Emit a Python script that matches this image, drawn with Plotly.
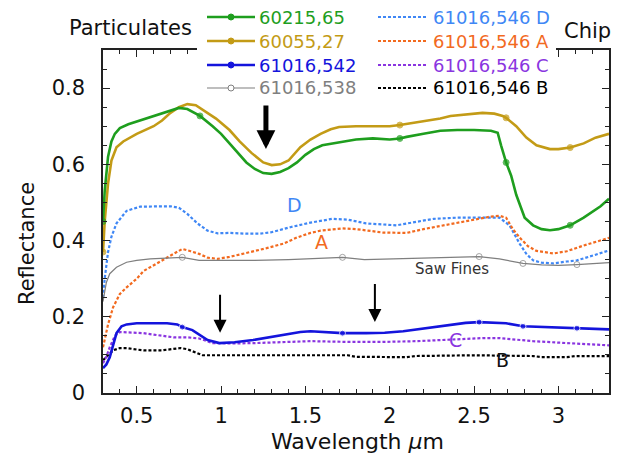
import plotly.graph_objects as go
import numpy as np

# ---------------- data ----------------
green_x = [0.30, 0.31, 0.33, 0.35, 0.37, 0.40, 0.45, 0.50, 0.55, 0.60, 0.65, 0.70, 0.75, 0.80, 0.875, 0.95, 1.00, 1.05, 1.10,
           1.15, 1.20, 1.25, 1.30, 1.35, 1.40, 1.45, 1.50, 1.55, 1.60, 1.70, 1.80, 1.90, 2.00, 2.06, 2.10, 2.20, 2.30, 2.40,
           2.50, 2.60, 2.64, 2.66, 2.69, 2.72, 2.75, 2.80, 2.85, 2.90, 2.95, 3.00, 3.07, 3.15, 3.20, 3.25, 3.30]
green_y = [0.45, 0.53, 0.62, 0.66, 0.68, 0.695, 0.705, 0.712, 0.72, 0.728, 0.735, 0.74, 0.748, 0.745, 0.727, 0.70, 0.68, 0.655,
           0.63, 0.605, 0.588, 0.577, 0.575, 0.58, 0.59, 0.605, 0.625, 0.64, 0.65, 0.658, 0.665, 0.668, 0.665, 0.668, 0.672,
           0.68, 0.688, 0.69, 0.69, 0.688, 0.683, 0.65, 0.605, 0.57, 0.52, 0.46, 0.44, 0.43, 0.427, 0.43, 0.44, 0.46, 0.475,
           0.49, 0.51]
green_marks = [0.30, 0.875, 2.06, 2.69, 3.07]

gold_x = [0.30, 0.31, 0.33, 0.35, 0.38, 0.42, 0.50, 0.55, 0.60, 0.65, 0.70, 0.75, 0.80, 0.85, 0.90, 0.97, 1.05, 1.11, 1.18,
          1.25, 1.30, 1.35, 1.40, 1.47, 1.53, 1.59, 1.65, 1.70, 1.80, 1.90, 2.00, 2.06, 2.20, 2.30, 2.36, 2.45, 2.55, 2.62,
          2.67, 2.69, 2.75, 2.81, 2.87, 2.95, 3.00, 3.07, 3.15, 3.22, 3.30]
gold_y = [0.37, 0.45, 0.55, 0.61, 0.645, 0.66, 0.68, 0.69, 0.70, 0.715, 0.735, 0.75, 0.758, 0.755, 0.74, 0.72, 0.69, 0.66,
          0.63, 0.605, 0.598, 0.60, 0.61, 0.645, 0.665, 0.68, 0.692, 0.698, 0.70, 0.70, 0.70, 0.703, 0.712, 0.72, 0.727,
          0.73, 0.735, 0.733, 0.727, 0.722, 0.70, 0.67, 0.65, 0.64, 0.64, 0.644, 0.655, 0.67, 0.68]
gold_marks = [0.30, 2.06, 2.69, 3.07]

blue_x = [0.30, 0.32, 0.34, 0.36, 0.38, 0.41, 0.44, 0.50, 0.60, 0.68, 0.74, 0.77, 0.83, 0.88, 0.92, 0.99, 1.08, 1.19, 1.28,
          1.37, 1.47, 1.53, 1.72, 1.86, 1.97, 2.08, 2.16, 2.26, 2.36, 2.45, 2.53, 2.62, 2.69, 2.79, 2.95, 3.11, 3.20, 3.30]
blue_y = [0.065, 0.075, 0.094, 0.125, 0.157, 0.175, 0.18, 0.183, 0.183, 0.183, 0.18, 0.173, 0.165, 0.15, 0.139, 0.131,
          0.133, 0.139, 0.146, 0.154, 0.16, 0.162, 0.157, 0.157, 0.158, 0.162, 0.167, 0.174, 0.18, 0.184, 0.186, 0.185,
          0.183, 0.175, 0.173, 0.17, 0.17, 0.167]
blue_marks = [0.77, 1.72, 2.53, 2.79, 3.11]

gray_x = [0.30, 0.32, 0.34, 0.38, 0.44, 0.50, 0.58, 0.70, 0.77, 0.87, 1.00, 1.20, 1.40, 1.60, 1.72, 1.85, 2.00, 2.20, 2.40,
          2.53, 2.65, 2.70, 2.79, 2.90, 3.00, 3.11, 3.20, 3.30]
gray_y = [0.24, 0.29, 0.313, 0.33, 0.343, 0.348, 0.352, 0.355, 0.356, 0.348, 0.348, 0.348, 0.35, 0.354, 0.356, 0.35, 0.352,
          0.355, 0.358, 0.358, 0.352, 0.348, 0.34, 0.336, 0.335, 0.337, 0.34, 0.342]
gray_marks = [0.77, 1.72, 2.53, 2.79, 3.11]

d_x = [0.30, 0.31, 0.33, 0.35, 0.38, 0.44, 0.52, 0.60, 0.70, 0.75, 0.80, 0.86, 0.92, 0.98, 1.05, 1.15, 1.23, 1.30, 1.41,
       1.53, 1.66, 1.75, 1.86, 2.04, 2.15, 2.26, 2.40, 2.55, 2.65, 2.71, 2.77, 2.81, 2.85, 2.90, 2.97, 3.05, 3.11, 3.20, 3.30]
d_y = [0.25, 0.30, 0.37, 0.41, 0.445, 0.478, 0.489, 0.49, 0.49, 0.486, 0.47, 0.445, 0.426, 0.419, 0.42, 0.418, 0.418,
       0.422, 0.435, 0.447, 0.457, 0.455, 0.445, 0.44, 0.448, 0.457, 0.46, 0.46, 0.46, 0.44, 0.392, 0.365, 0.348, 0.342,
       0.34, 0.345, 0.348, 0.36, 0.374]

a_x = [0.30, 0.33, 0.36, 0.40, 0.44, 0.50, 0.54, 0.60, 0.68, 0.74, 0.77, 0.82, 0.87, 0.92, 0.98, 1.05, 1.17, 1.27, 1.37,
       1.45, 1.53, 1.59, 1.72, 1.80, 1.96, 2.10, 2.20, 2.36, 2.50, 2.60, 2.65, 2.69, 2.73, 2.77, 2.82, 2.87, 2.97, 3.05,
       3.15, 3.22, 3.30]
a_y = [0.12, 0.18, 0.225, 0.26, 0.277, 0.30, 0.32, 0.335, 0.356, 0.372, 0.378, 0.372, 0.365, 0.355, 0.352, 0.357, 0.369,
       0.38, 0.392, 0.408, 0.42, 0.426, 0.432, 0.43, 0.421, 0.42, 0.43, 0.444, 0.455, 0.463, 0.465, 0.46, 0.43, 0.408,
       0.385, 0.373, 0.366, 0.372, 0.387, 0.397, 0.407]

c_x = [0.30, 0.32, 0.34, 0.37, 0.40, 0.54, 0.62, 0.72, 0.80, 0.87, 0.95, 1.07, 1.20, 1.37, 1.53, 1.76, 1.95, 2.16, 2.30,
       2.42, 2.55, 2.65, 2.75, 2.85, 3.05, 3.20, 3.30]
c_y = [0.078, 0.095, 0.12, 0.15, 0.16, 0.157, 0.152, 0.146, 0.146, 0.143, 0.131, 0.13, 0.131, 0.133, 0.136, 0.134, 0.134,
       0.136, 0.139, 0.141, 0.144, 0.144, 0.14, 0.136, 0.131, 0.128, 0.125]

b_x = [0.30, 0.33, 0.36, 0.40, 0.44, 0.50, 0.54, 0.65, 0.72, 0.76, 0.80, 0.84, 0.89, 1.00, 1.50, 1.75, 1.80, 2.10, 2.15,
       2.50, 2.85, 2.90, 3.05, 3.10, 3.30]
b_y = [0.086, 0.10, 0.112, 0.118, 0.118, 0.114, 0.112, 0.112, 0.115, 0.118, 0.115, 0.108, 0.099, 0.099, 0.099, 0.099,
       0.095, 0.094, 0.097, 0.099, 0.097, 0.094, 0.094, 0.097, 0.097]

x_ticks = [0.5, 1, 1.5, 2, 2.5, 3]
x_ticklabels = ["0.5", "1", "1.5", "2", "2.5", "3"]
y_ticks = [0, 0.2, 0.4, 0.6, 0.8]
y_ticklabels = ["0", "0.2", "0.4", "0.6", "0.8"]

# ---------------- styling ----------------
FONT = "DejaVu Sans"
C_GREEN = "#1e9e1e"
C_GOLD = "#c39b16"
C_BLUE = "#1414dc"
C_GRAY = "#7f7f7f"
C_D = "#3f87f5"
C_A = "#f26a1f"
C_C = "#8a35e0"
C_B = "#000000"

# plot area in pixels
W, H = 618, 455
L, R, T, B = 103, 609, 50, 393


def px(xp):
    return (xp - L) / (R - L)


def py(yp):
    return (B - yp) / (B - T)


def mark_sizes(xs, marks, size):
    arr = np.zeros(len(xs))
    for m in marks:
        arr[int(np.argmin(np.abs(np.array(xs) - m)))] = size
    return arr.tolist()


fig = go.Figure()

solid = [
    (gray_x, gray_y, gray_marks, C_GRAY, 1.2, "circle-open", 6),
    (gold_x, gold_y, gold_marks, C_GOLD, 2.6, "circle", 6),
    (green_x, green_y, green_marks, C_GREEN, 2.6, "circle", 6),
]
dashed = [
    (d_x, d_y, C_D),
    (a_x, a_y, C_A),
    (b_x, b_y, C_B),
    (c_x, c_y, C_C),
]
for xs, ys, col in dashed:
    fig.add_trace(go.Scatter(x=xs, y=ys, mode="lines", showlegend=False,
                             line=dict(color=col, width=2.2, dash="3px,2px")))
for xs, ys, marks, col, w, sym, ms in solid:
    fig.add_trace(go.Scatter(x=xs, y=ys, mode="lines+markers", showlegend=False,
                             line=dict(color=col, width=w),
                             marker=dict(color=col, symbol=sym, size=mark_sizes(xs, marks, ms),
                                         line=dict(color=col, width=1))))
fig.add_trace(go.Scatter(x=blue_x, y=blue_y, mode="lines+markers", showlegend=False,
                         line=dict(color=C_BLUE, width=2.6),
                         marker=dict(color=C_BLUE, size=mark_sizes(blue_x, blue_marks, 6))))

shapes = []
annotations = []

# legend background
shapes.append(dict(type="rect", xref="paper", yref="paper", x0=px(197), x1=px(556), y0=py(0), y1=py(99),
                   fillcolor="white", line=dict(width=0), layer="above"))

legend_left = [
    ("60215,65", C_GREEN, 2.6, "solid", "fill"),
    ("60055,27", C_GOLD, 2.6, "solid", "fill"),
    ("61016,542", C_BLUE, 2.6, "solid", "fill"),
    ("61016,538", C_GRAY, 1.2, "solid", "open"),
]
legend_right = [
    ("61016,546 D", C_D),
    ("61016,546 A", C_A),
    ("61016,546 C", C_C),
    ("61016,546 B", C_B),
]
rows = [17, 41, 65, 88]
for (name, col, w, dash, mk), r in zip(legend_left, rows):
    shapes.append(dict(type="line", xref="paper", yref="paper", x0=px(207), x1=px(255), y0=py(r), y1=py(r),
                       line=dict(color=col, width=w), layer="above"))
    shapes.append(dict(type="circle", xref="paper", yref="paper", xsizemode="pixel", ysizemode="pixel",
                       xanchor=px(231), yanchor=py(r), x0=-3, x1=3, y0=-3, y1=3,
                       fillcolor=(col if mk == "fill" else "white"), line=dict(color=col, width=1), layer="above"))
    annotations.append(dict(text=name, xref="paper", yref="paper", x=px(257), y=py(r), xanchor="left",
                            yanchor="middle", showarrow=False, font=dict(family=FONT, size=18, color=col)))
for (name, col), r in zip(legend_right, rows):
    shapes.append(dict(type="line", xref="paper", yref="paper", x0=px(378), x1=px(428), y0=py(r), y1=py(r),
                       line=dict(color=col, width=2.2, dash="3px,2px"), layer="above"))
    annotations.append(dict(text=name, xref="paper", yref="paper", x=px(431), y=py(r), xanchor="left",
                            yanchor="middle", showarrow=False, font=dict(family=FONT, size=18, color=col)))

# titles
annotations.append(dict(text="Particulates", xref="paper", yref="paper", x=px(130), y=py(28), showarrow=False,
                        xanchor="center", yanchor="middle", font=dict(family=FONT, size=21, color="#111")))
annotations.append(dict(text="Chip", xref="paper", yref="paper", x=px(587), y=py(31), showarrow=False,
                        xanchor="center", yanchor="middle", font=dict(family=FONT, size=21, color="#111")))
annotations.append(dict(text="Wavelength <i>μ</i>m", xref="paper", yref="paper", x=px(357), y=py(441),
                        xanchor="center", yanchor="middle", showarrow=False,
                        font=dict(family=FONT, size=22, color="#111")))
annotations.append(dict(text="Reflectance", xref="paper", yref="paper", x=px(27), y=py(244), textangle=-90,
                        xanchor="center", yanchor="middle", showarrow=False,
                        font=dict(family=FONT, size=21, color="#111")))

# curve labels
for txt, x, y, col, sz in [("D", 1.438, 0.494, C_D, 19), ("A", 1.598, 0.397, C_A, 19),
                           ("Saw Fines", 2.369, 0.326, "#333333", 15), ("C", 2.387, 0.139, C_C, 19),
                           ("B", 2.671, 0.086, "#111111", 19)]:
    annotations.append(dict(text=txt, x=x, y=y, xref="x", yref="y", showarrow=False,
                            xanchor="center", yanchor="middle", font=dict(family=FONT, size=sz, color=col)))

# arrows
annotations.append(dict(x=1.266, y=0.640, ax=1.266, ay=0.758, xref="x", yref="y", axref="x", ayref="y", text="",
                        showarrow=True, arrowhead=2, arrowwidth=5, arrowsize=0.75, arrowcolor="black"))
for xa, y0, y1 in [(0.994, 0.158, 0.262), (1.912, 0.186, 0.290)]:
    annotations.append(dict(x=xa, y=y0, ax=xa, ay=y1, xref="x", yref="y", axref="x", ayref="y", text="",
                            showarrow=True, arrowhead=2, arrowwidth=2, arrowsize=1.3, arrowcolor="black"))

axis_common = dict(showgrid=False, zeroline=False, showline=True, linecolor="#222", linewidth=1.5,
                   mirror="ticks", ticks="inside", ticklen=7, tickwidth=1.2, tickcolor="#222", automargin=False,
                   tickfont=dict(family=FONT, size=21, color="#111"))
fig.update_layout(
    width=W, height=H,
    margin=dict(l=L, r=W - R, t=T, b=H - B, autoexpand=False),
    paper_bgcolor="white", plot_bgcolor="white",
    showlegend=False,
    xaxis=dict(range=[0.3, 3.3], tickvals=x_ticks, ticktext=x_ticklabels,
               minor=dict(dtick=0.1, tick0=0, ticks="inside", ticklen=4, tickcolor="#222", tickwidth=1.1),
               ticklabelstandoff=3, **axis_common),
    yaxis=dict(range=[0, 0.9], tickvals=y_ticks, ticktext=y_ticklabels,
               minor=dict(dtick=0.05, tick0=0, ticks="inside", ticklen=4, tickcolor="#222", tickwidth=1.1),
               ticklabelstandoff=12, **axis_common),
    shapes=shapes, annotations=annotations,
)
fig.write_html("out.html", config={"displayModeBar": False},
               post_script="document.body.style.margin='0px';document.body.style.padding='0px';")
